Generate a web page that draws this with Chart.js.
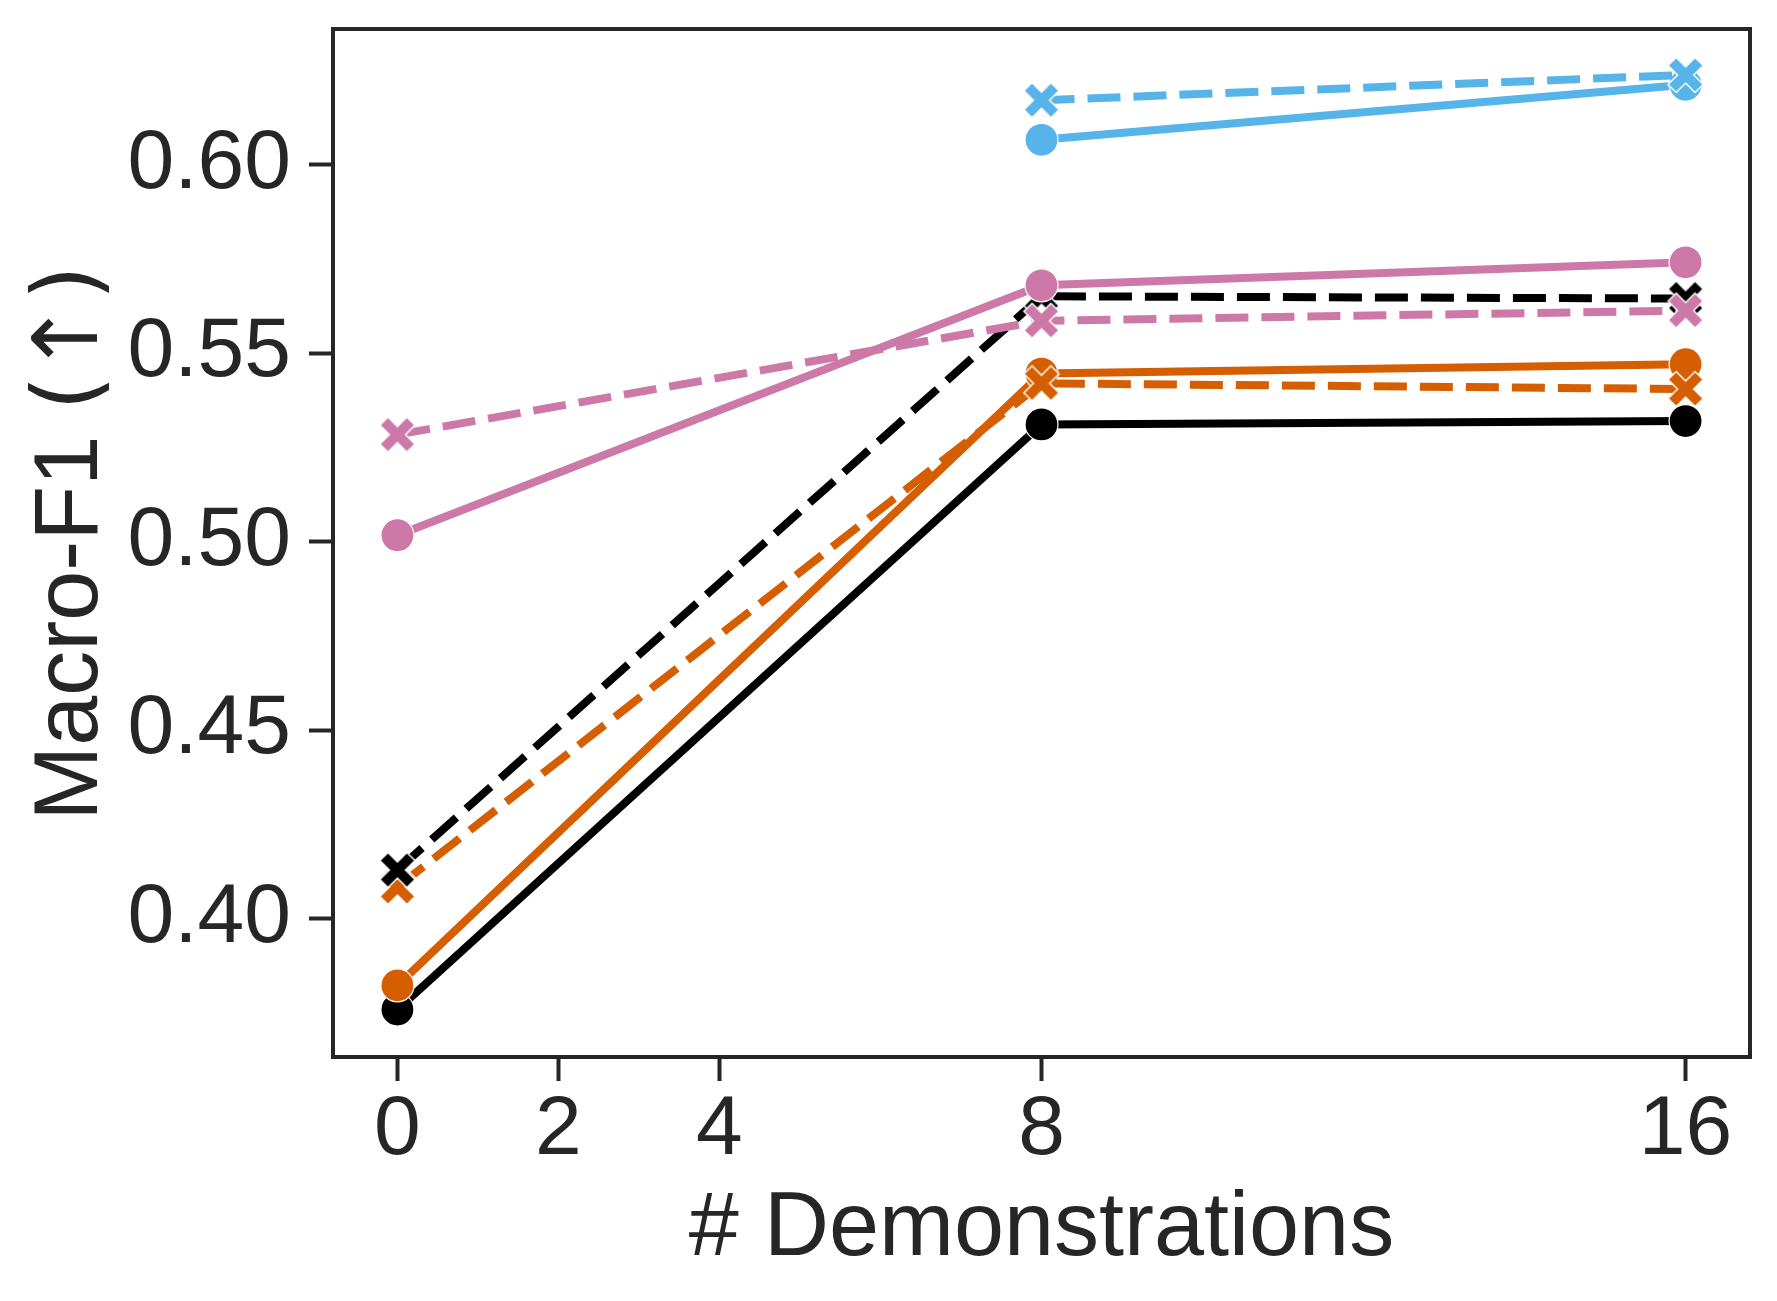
<!DOCTYPE html>
<html>
<head>
<meta charset="utf-8">
<script src="https://cdn.jsdelivr.net/npm/chart.js@4.4.1/dist/chart.umd.min.js"></script>
<style>
  html, body { margin: 0; padding: 0; background: #fff; }
  #wrap { width: 1777px; height: 1301px; }
</style>
</head>
<body>
<div id="wrap"><canvas id="grafico"></canvas></div>
<script>
// number of demonstrations
const demos = [0, 8, 16];
const xTicks = [0, 2, 4, 8, 16];
const yTicks = [0.40, 0.45, 0.50, 0.55, 0.60];

// Macro-F1 per line (null = no point)
const azulSolido = [null, 0.6066, 0.6212];
const azulGuiones = [null, 0.6171, 0.6238];
const rosaSolido = [0.5017, 0.5680, 0.5741];
const rosaGuiones = [0.5284, 0.5586, 0.5613];
const negroGuiones = [0.4129, 0.5651, 0.5645];
const naranjaSolido = [0.3823, 0.5446, 0.5471];
const naranjaGuiones = [0.4084, 0.5420, 0.5405];
const negroSolido = [0.3759, 0.5311, 0.5320];

const AZUL = '#56B4E9';
const ROSA = '#CC79A7';
const NARANJA = '#D55E00';
const NEGRO = '#000000';
const TEXTO = '#262626';
const FUENTE = '"Liberation Sans", Arial, sans-serif';

// filled "X" marker with white edge, like seaborn
function marcadorX(color) {
  const c = document.createElement('canvas');
  c.width = 44; c.height = 44;
  const g = c.getContext('2d');
  g.translate(22, 22);
  const d = 13;
  g.lineCap = 'butt';
  g.strokeStyle = '#ffffff';
  g.lineWidth = 13;
  g.beginPath();
  g.moveTo(-d - 1, -d - 1); g.lineTo(d + 1, d + 1);
  g.moveTo(d + 1, -d - 1); g.lineTo(-d - 1, d + 1);
  g.stroke();
  g.strokeStyle = color;
  g.lineWidth = 10;
  g.beginPath();
  g.moveTo(-d, -d); g.lineTo(d, d);
  g.moveTo(d, -d); g.lineTo(-d, d);
  g.stroke();
  return c;
}

function puntos(vals) {
  return demos.map((x, i) => ({ x: x, y: vals[i] }));
}

function serie(vals, color, guiones) {
  return {
    data: puntos(vals),
    borderColor: color,
    backgroundColor: color,
    borderWidth: 8,
    borderDash: guiones ? [33, 13] : [],
    pointStyle: guiones ? marcadorX(color) : 'circle',
    pointRadius: guiones ? 17 : 16.5,
    pointHoverRadius: guiones ? 17 : 16.5,
    pointBackgroundColor: color,
    pointBorderColor: '#ffffff',
    pointBorderWidth: guiones ? 0 : 1.2,
    fill: false,
    tension: 0,
    spanGaps: false
  };
}

// frame around the plot area
const marco = {
  id: 'marco',
  beforeDatasetsDraw(chart) {
    const a = chart.chartArea;
    const ctx = chart.ctx;
    ctx.save();
    ctx.strokeStyle = TEXTO;
    ctx.lineWidth = 4;
    ctx.strokeRect(a.left, a.top, a.right - a.left, a.bottom - a.top);
    ctx.restore();
  }
};

// y title: words in Liberation Sans, "(↑)" in DejaVu Sans as matplotlib does
const tituloY = {
  id: 'tituloY',
  afterDraw(chart) {
    const a = chart.chartArea;
    const ctx = chart.ctx;
    const partes = [
      { t: 'Macro-F1 ', f: '90px "Liberation Sans", Arial, sans-serif' },
      { t: '(\u2191)', f: '90px "DejaVu Sans", sans-serif' }
    ];
    ctx.save();
    let total = 0;
    partes.forEach(p => { ctx.font = p.f; p.w = ctx.measureText(p.t).width; total += p.w; });
    ctx.translate(97, (a.top + a.bottom) / 2);
    ctx.rotate(-Math.PI / 2);
    ctx.fillStyle = TEXTO;
    ctx.textAlign = 'left';
    ctx.textBaseline = 'alphabetic';
    let x = -total / 2;
    partes.forEach(p => { ctx.font = p.f; ctx.fillText(p.t, x, 0); x += p.w; });
    ctx.restore();
  }
};

const ctx = document.getElementById('grafico').getContext('2d');

const grafico = new Chart(ctx, {
  type: 'line',
  data: {
    datasets: [
      serie(azulGuiones, AZUL, true),
      serie(azulSolido, AZUL, false),
      serie(rosaSolido, ROSA, false),
      serie(rosaGuiones, ROSA, true),
      serie(negroGuiones, NEGRO, true),
      serie(naranjaGuiones, NARANJA, true),
      serie(naranjaSolido, NARANJA, false),
      serie(negroSolido, NEGRO, false)
    ]
  },
  options: {
    responsive: true,
    maintainAspectRatio: false,
    animation: false,
    devicePixelRatio: 1,
    layout: { padding: { left: 0, top: 29, right: 27, bottom: 0 } },
    plugins: {
      legend: { display: false },
      tooltip: { enabled: false }
    },
    scales: {
      x: {
        type: 'linear',
        min: -0.8,
        max: 16.8,
        afterFit: (s) => { s.height = 244; s.paddingLeft = 0; s.paddingRight = 0; },
        afterBuildTicks: (s) => { s.ticks = xTicks.map(v => ({ value: v })); },
        border: { display: false },
        grid: {
          drawOnChartArea: false,
          drawTicks: true,
          tickLength: 24,
          tickWidth: 4,
          tickColor: TEXTO
        },
        ticks: {
          color: TEXTO,
          padding: 8,
          maxRotation: 0,
          font: { family: FUENTE, size: 84, lineHeight: 1 },
          callback: (v) => String(v)
        },
        title: {
          display: true,
          text: '# Demonstrations',
          color: TEXTO,
          padding: { top: 0, bottom: 17 },
          font: { family: FUENTE, size: 90 }
        }
      },
      y: {
        type: 'linear',
        min: 0.3633,
        max: 0.6360,
        afterFit: (s) => { s.width = 333; s.paddingTop = 0; s.paddingBottom = 0; },
        afterBuildTicks: (s) => { s.ticks = yTicks.map(v => ({ value: v })); },
        border: { display: false },
        grid: {
          drawOnChartArea: false,
          drawTicks: true,
          tickLength: 24,
          tickWidth: 4,
          tickColor: TEXTO
        },
        ticks: {
          color: TEXTO,
          padding: 18,
          font: { family: FUENTE, size: 84, lineHeight: 1 },
          callback: (v) => v.toFixed(2)
        },
        title: { display: false }
      }
    }
  },
  plugins: [marco, tituloY]
});
</script>
</body>
</html>
